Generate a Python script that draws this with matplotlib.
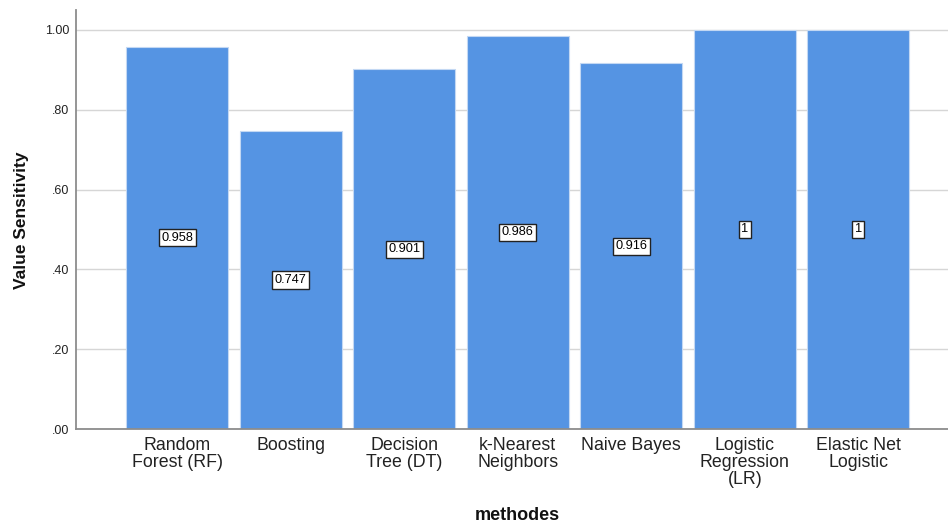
import matplotlib.pyplot as plt

# data
methods = ['Random\nForest (RF)', 'Boosting', 'Decision\nTree (DT)',
           'k-Nearest\nNeighbors', 'Naive Bayes', 'Logistic\nRegression\n(LR)',
           'Elastic Net\nLogistic']
sensitivity = [0.958, 0.747, 0.901, 0.986, 0.916, 1, 1]
value_labels = ['0.958', '0.747', '0.901', '0.986', '0.916', '1', '1']
y_ticks = [0.0, 0.2, 0.4, 0.6, 0.8, 1.0]
y_tick_labels = ['.00', '.20', '.40', '.60', '.80', '1.00']

plt.rcParams['font.family'] = ['Liberation Sans', 'DejaVu Sans']

fig = plt.figure(figsize=(9.48, 5.24), dpi=100)
ax = fig.add_axes([76/948, 95/524, 1 - 76/948, (429 - 10)/524])

x = range(len(methods))
ax.bar(x, sensitivity, width=0.9, color='#5594e3',
       edgecolor='#c3d8f3', linewidth=0.8, zorder=3)

for i, (v, lab) in enumerate(zip(sensitivity, value_labels)):
    ax.text(i, v/2, lab, ha='center', va='center', fontsize=9.2, zorder=4,
            bbox=dict(boxstyle='square,pad=0.2', facecolor='white',
                      edgecolor='#222222', linewidth=1.0))

ax.set_xlim(-0.89, 6.79)
ax.set_ylim(0, 1.05)
ax.set_xticks(list(x))
ax.set_xticklabels(methods, fontsize=12.8, color='#222222', linespacing=1.0)
ax.set_yticks(y_ticks)
ax.set_yticklabels(y_tick_labels, fontsize=9, color='#222222')
ax.tick_params(axis='x', length=0, pad=6)
ax.tick_params(axis='y', length=0, pad=5)

ax.grid(axis='y', color='#d6d6d6', linewidth=1.0, zorder=0)
ax.set_axisbelow(True)
for s in ['top', 'right']:
    ax.spines[s].set_visible(False)
for s in ['left', 'bottom']:
    ax.spines[s].set_color('#8c8c8c')
    ax.spines[s].set_linewidth(1.3)
    ax.spines[s].set_zorder(5)

fig.text(22/948, 1 - 220/524, 'Value Sensitivity', rotation=90,
         ha='center', va='center', fontsize=12.5, fontweight='bold', color='#111111')
fig.text(517/948, 1 - 515/524, 'methodes', ha='center', va='center',
         fontsize=13, fontweight='bold', color='#111111')

plt.savefig('out.png', dpi=100)
